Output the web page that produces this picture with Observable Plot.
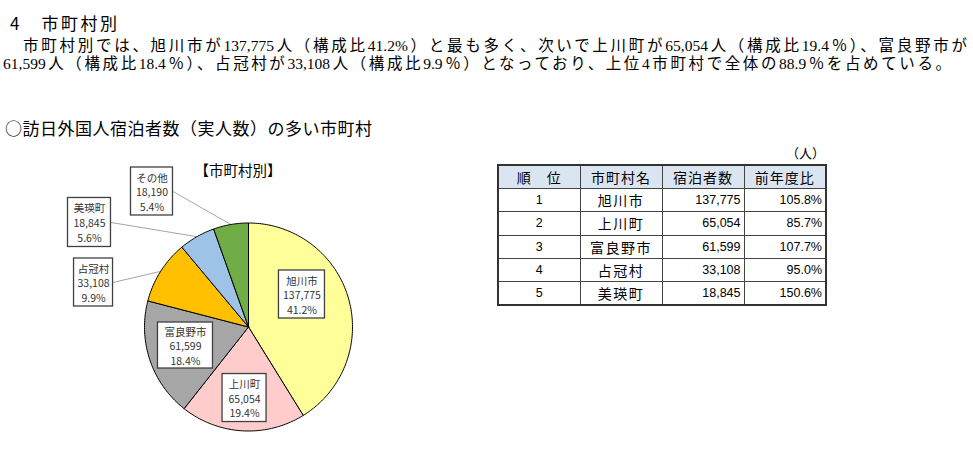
<!DOCTYPE html>
<html><head><meta charset="utf-8">
<script src="https://cdn.jsdelivr.net/npm/d3@7"></script>
<script src="https://cdn.jsdelivr.net/npm/@observablehq/plot@0.6"></script>
<style>
body{margin:0;background:#fff;width:973px;height:456px;overflow:hidden;position:relative;font-family:"Noto Sans CJK JP",sans-serif;color:#000}
.abs{position:absolute}
#heading{left:10px;top:12px;font-size:17px;letter-spacing:2.5px;line-height:22px;white-space:pre}
.para{font-family:"Liberation Serif","Noto Sans CJK JP",serif;font-size:15.5px;line-height:20px;text-align:justify;text-align-last:justify}
#subtitle{left:5px;top:117px;font-size:17px;letter-spacing:0.5px;line-height:22px;white-space:nowrap}
#pietitle{left:188px;top:160px;width:100px;text-align:center;font-size:14.5px;line-height:20px;white-space:nowrap}
#unit{left:770px;top:144px;width:55px;text-align:right;font-size:13px;line-height:18px}
#chart{left:0;top:140px}
#tbl{left:497px;top:164px;border-collapse:collapse;border:2px solid #333;table-layout:fixed}
#tbl td,#tbl th{border:1px solid #444;height:23.4px;padding:0 3px;font-weight:normal;box-sizing:border-box}
#tbl th{background:#dbe5f1;font-size:14px;letter-spacing:1px;text-align:center}
#tbl td.name{text-align:center;font-size:14px;letter-spacing:1.5px}
#tbl td.num{text-align:right;font-family:"Liberation Sans","Noto Sans CJK JP",sans-serif;font-size:12.5px}
#tbl td.num.c{text-align:center}
</style></head>
<body>
<div id="heading" class="abs">4　市町村別</div>
<div id="p1" class="abs para" style="left:23px;top:36px;width:944px">市町村別では、旭川市が137,775人（構成比41.2%）と最も多く、次いで上川町が65,054人（構成比19.4％）、富良野市が</div>
<div id="p2" class="abs para" style="left:3px;top:54px;width:948px">61,599人（構成比18.4％）、占冠村が33,108人（構成比9.9％）となっており、上位4市町村で全体の88.9％を占めている。</div>
<div id="subtitle" class="abs">○訪日外国人宿泊者数（実人数）の多い市町村</div>
<div id="chart" class="abs"></div>
<div id="pietitle" class="abs">【市町村別】</div>
<div id="unit" class="abs">（人）</div>
<table id="tbl" class="abs"></table>
<script>
// ---- data ----
const names = ["旭川市", "上川町", "富良野市", "占冠村", "美瑛町", "その他"];
const guests = [137775, 65054, 61599, 33108, 18845, 18190];
const sliceColors = ["#ffff99", "#ffcccc", "#a6a6a6", "#ffc000", "#9dc3e6", "#70ad47"];

const tableHeaders = ["順　位", "市町村名", "宿泊者数", "前年度比"];
const ranks = [1, 2, 3, 4, 5];
const rankNames = ["旭川市", "上川町", "富良野市", "占冠村", "美瑛町"];
const rankGuests = [137775, 65054, 61599, 33108, 18845];
const yoyRatio = [105.8, 85.7, 107.7, 95.0, 150.6];

// ---- layout (pixels / radius units) ----
const W = 490, H = 316, CX = 248, CY = 186.5, R = 104;
const labelLayout = [
  {dx: 0.514, dy: 0.3125, w: 46, h: 48, leader: false},
  {dx: -0.038, dy: -0.683, w: 44, h: 48, leader: false},
  {dx: -0.606, dy: -0.178, w: 55, h: 46, leader: false},
  {dx: -1.490, dy: 0.428, w: 39, h: 48, leader: true},
  {dx: -1.529, dy: 1.005, w: 43, h: 49, leader: true},
  {dx: -0.928, dy: 1.303, w: 42, h: 48, leader: true}
];

const total = d3.sum(guests);
const fmtN = d3.format(",");
const fmtP = d3.format(".1%");
const arcs = d3.pie().sort(null).value(d => d)(guests);

const piePts = [];
arcs.forEach((a, i) => {
  const n = Math.max(2, Math.ceil((a.endAngle - a.startAngle) / (Math.PI / 180)));
  piePts.push({name: names[i], color: sliceColors[i], x: 0, y: 0});
  for (let k = 0; k <= n; k++) {
    const t = a.startAngle + (a.endAngle - a.startAngle) * k / n;
    piePts.push({name: names[i], color: sliceColors[i], x: Math.sin(t), y: Math.cos(t)});
  }
  piePts.push({name: names[i], color: sliceColors[i], x: 0, y: 0});
});

const labels = arcs.map((a, i) => {
  const mid = (a.startAngle + a.endAngle) / 2;
  const L = labelLayout[i];
  return {
    name: names[i], value: guests[i], pct: guests[i] / total,
    lx: L.dx, ly: L.dy, w: L.w / R, h: L.h / R, leader: L.leader,
    ex: Math.sin(mid), ey: Math.cos(mid)
  };
});
const leaders = labels.filter(d => d.leader);

const chart = Plot.plot({
  width: W, height: H, margin: 0,
  x: {domain: [-CX / R, (W - CX) / R], axis: null},
  y: {domain: [-(H - CY) / R, CY / R], axis: null},
  color: {type: "identity"},
  style: {background: "transparent", overflow: "visible"},
  marks: [
    Plot.link(leaders, {x1: d => d.lx + d.w / 2, y1: "ly", x2: "ex", y2: "ey", stroke: "#a6a6a6", strokeWidth: 1}),
    Plot.line(piePts, {x: "x", y: "y", z: "name", fill: "color", stroke: "#000", strokeWidth: 1, strokeLinejoin: "round"}),
    Plot.rect(labels, {x1: d => d.lx - d.w / 2, x2: d => d.lx + d.w / 2, y1: d => d.ly - d.h / 2, y2: d => d.ly + d.h / 2,
      fill: "#fff", stroke: "#404040", strokeWidth: 1.3}),
    Plot.text(labels, {x: "lx", y: "ly", text: d => `${d.name}\n${fmtN(d.value)}\n${fmtP(d.pct)}`,
      fontSize: 10.5, lineHeight: 1.4, fill: "#333", fontFamily: "'Noto Sans CJK JP', sans-serif"})
  ]
});
document.getElementById("chart").appendChild(chart);

// ---- table ----
const tbl = d3.select("#tbl");
const cg = tbl.append("colgroup");
[82, 82, 82, 82].forEach(w => cg.append("col").style("width", w + "px"));
tbl.append("tr").selectAll("th").data(tableHeaders).join("th").text(d => d);
ranks.forEach((r, i) => {
  const tr = tbl.append("tr");
  tr.append("td").attr("class", "num c").text(r);
  tr.append("td").attr("class", "name").text(rankNames[i]);
  tr.append("td").attr("class", "num").text(fmtN(rankGuests[i]));
  tr.append("td").attr("class", "num").text(yoyRatio[i].toFixed(1) + "%");
});
</script>
</body></html>
